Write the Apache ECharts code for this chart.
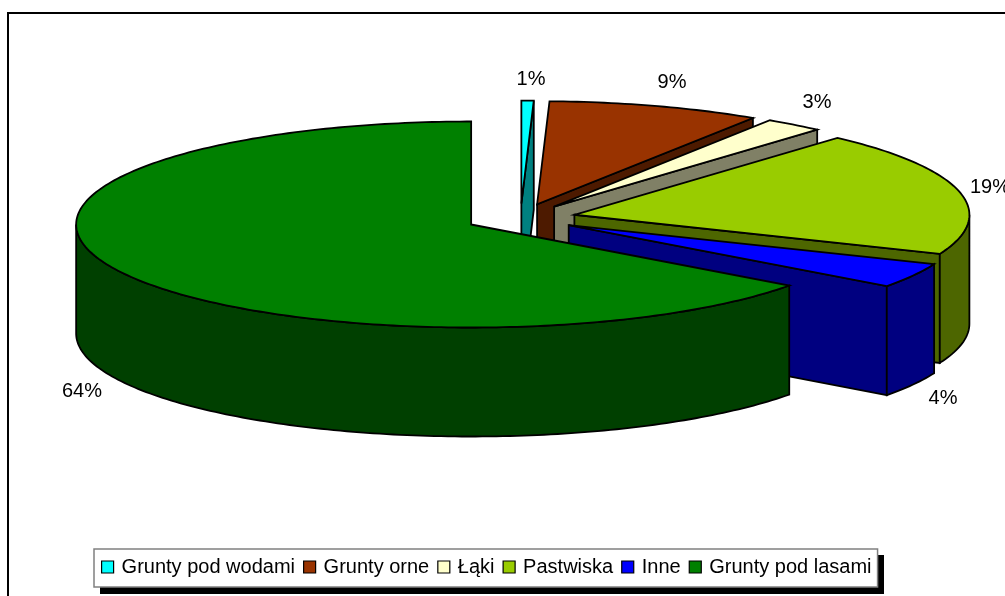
<!DOCTYPE html>
<html>
<head>
<meta charset="utf-8">
<style>
  html, body { margin: 0; padding: 0; background: #fff; overflow: hidden; }
  #main { width: 1005px; height: 596px; }
</style>
<script src="https://cdn.jsdelivr.net/npm/echarts@6/dist/echarts.min.js"></script>
</head>
<body>
<div id="main"></div>
<script>
const categories = ['Grunty pod wodami', 'Grunty orne', 'Łąki', 'Pastwiska', 'Inne', 'Grunty pod lasami'];
// shares as measured from the slice angles; the printed labels are kept separately
const sliceShares = [0.5, 8.7, 2.4, 19.6, 3.9, 64.9];
const percentLabels = ['1%', '9%', '3%', '19%', '4%', '64%'];

const topColors = ['#00ffff', '#993300', '#ffffcc', '#99cc00', '#0000ff', '#008000'];
const wallColors = ['#008080', '#4d1a00', '#808066', '#4d6600', '#000080', '#004000'];
const labelAnchors = [[531, 79], [672, 82], [817, 102], [990, 187], [943, 398], [82, 391]];

const pieX = 520.5;
const pieY = 218;
const radiusX = 395;
const radiusY = 103;
const depth = 109;
const explode = 0.14;
const total = sliceShares.reduce((a, b) => a + b, 0);

const rad = (deg) => deg * Math.PI / 180;

function renderSlice(params, api) {
  const i = params.seriesIndex;
  const share = api.value(0);
  const before = sliceShares.slice(0, i).reduce((a, b) => a + b, 0);
  const a0 = before / total * 360;
  const a1 = a0 + share / total * 360;
  const mid = (a0 + a1) / 2;
  const ax = pieX + explode * radiusX * Math.sin(rad(mid));
  const ay = pieY - explode * radiusY * Math.cos(rad(mid));
  const rim = (a) => [ax + radiusX * Math.sin(rad(a)), ay - radiusY * Math.cos(rad(a))];
  const down = (p) => [p[0], p[1] + depth];
  const edge = { stroke: '#000', lineWidth: 1.8, lineJoin: 'miter' };
  const children = [];

  // flat wall on the closing edge, visible on the right half only
  if (a1 < 180) {
    const p = rim(a1);
    children.push({
      type: 'polygon',
      shape: { points: [[ax, ay], p, down(p), [ax, ay + depth]] },
      style: Object.assign({ fill: wallColors[i] }, edge)
    });
  }
  // curved outer wall, front half of the ellipse only
  const from = Math.max(a0, 90);
  const to = Math.min(a1, 270);
  if (to > from) {
    const upper = [];
    for (let a = from; a <= to; a += 1) upper.push(rim(a));
    upper.push(rim(to));
    const lower = upper.map(down).reverse();
    children.push({
      type: 'polygon',
      shape: { points: upper.concat(lower) },
      style: Object.assign({ fill: wallColors[i] }, edge)
    });
  }
  // top face
  const top = [[ax, ay]];
  for (let a = a0; a < a1; a += 1) top.push(rim(a));
  top.push(rim(a1));
  children.push({
    type: 'polygon',
    shape: { points: top },
    style: Object.assign({ fill: topColors[i] }, edge)
  });
  children.push({
    type: 'text',
    style: {
      text: percentLabels[i],
      x: labelAnchors[i][0],
      y: labelAnchors[i][1],
      fill: '#000',
      font: '20px "Liberation Sans"',
      align: 'center',
      verticalAlign: 'middle'
    }
  });
  return { type: 'group', children: children };
}

const chart = echarts.init(document.getElementById('main'), null, { renderer: 'canvas' });
chart.setOption({
  animation: false,
  backgroundColor: '#fff',
  textStyle: { fontFamily: '"Liberation Sans"' },
  graphic: [{
    type: 'rect',
    silent: true,
    z: -2,
    shape: { x: 8, y: 13, width: 1100, height: 700 },
    style: { fill: '#fff', stroke: '#000', lineWidth: 2 }
  }, {
    // drop shadow of the legend box
    type: 'rect',
    silent: true,
    z: -1,
    shape: { x: 100, y: 555, width: 784, height: 39 },
    style: { fill: '#000' }
  }],
  legend: {
    left: 94,
    top: 549,
    selectedMode: false,
    orient: 'horizontal',
    padding: [8, 6, 10, 7],
    itemWidth: 12,
    itemHeight: 12,
    itemGap: 8,
    icon: 'rect',
    backgroundColor: '#fff',
    borderColor: '#808080',
    borderWidth: 1.5,
    itemStyle: { borderColor: '#000', borderWidth: 1.2 },
    textStyle: { fontFamily: '"Liberation Sans"', fontSize: 20, color: '#000', padding: [0, 0, 0, 3] },
    data: categories
  },
  series: categories.map((name, i) => ({
    type: 'custom',
    name: name,
    coordinateSystem: 'none',
    silent: true,
    z: 2,
    itemStyle: { color: topColors[i] },
    data: [[sliceShares[i]]],
    renderItem: renderSlice
  }))
});
</script>
</body>
</html>
